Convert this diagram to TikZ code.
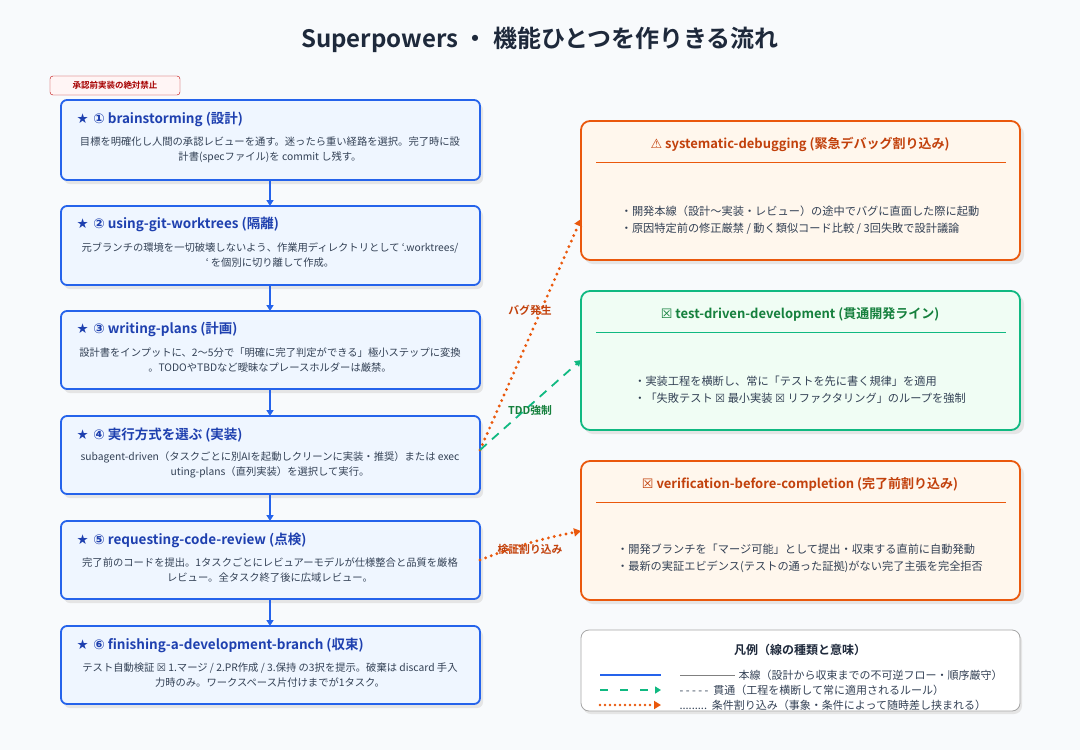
\documentclass[tikz,border=0pt]{standalone}
\usepackage{fontspec}
\setmainfont{Noto Sans CJK JP}[BoldFont={Noto Sans CJK JP Bold}]
\newfontfamily\sym{DejaVu Sans}
\usetikzlibrary{arrows.meta}
\definecolor{bg}{HTML}{F8FAFC}
\definecolor{blu}{HTML}{2563EB}
\definecolor{bluf}{HTML}{EFF6FF}
\definecolor{blt}{HTML}{1E40AF}
\definecolor{org}{HTML}{EA580C}
\definecolor{orgf}{HTML}{FFF7ED}
\definecolor{orgt}{HTML}{C2410C}
\definecolor{grn}{HTML}{10B981}
\definecolor{grnf}{HTML}{F0FDF4}
\definecolor{grnt}{HTML}{15803D}
\definecolor{txt}{HTML}{334155}
\definecolor{ttl}{HTML}{1E293B}
\tikzset{
 x=1pt,y=-1pt,
 stepbox/.style={draw=blu,line width=1.8pt,fill=bluf,rounded corners=6pt},
 shd/.style={fill=black!10,rounded corners=6pt},
 hd/.style={anchor=west,font=\bfseries\fontsize{13.5}{16}\selectfont,text=blt},
 bd/.style={align=center,font=\fontsize{10.3}{15}\selectfont,text=txt},
 main/.style={blu,line width=1.6pt,-{Triangle[width=7pt,length=6pt]}},
 dot/.style={org,line width=3.2pt,dash pattern=on 0pt off 6pt,line cap=round,-{Triangle[width=8pt,length=7pt]}},
 dsh/.style={grn,line width=1.8pt,dash pattern=on 9pt off 7pt,-{Triangle[width=7pt,length=6pt]}},
 lbl/.style={font=\bfseries\fontsize{10.8}{12}\selectfont},
 rb/.style={rounded corners=9pt,line width=1.8pt},
 rbd/.style={align=left,font=\fontsize{11.2}{17}\selectfont,text=txt},
 rh/.style={font=\bfseries\fontsize{13}{15}\selectfont},
 lt/.style={anchor=west,font=\fontsize{11}{12}\selectfont,text=txt},
}
\begin{document}
\begin{tikzpicture}
\useasboundingbox[fill=bg] (0,0) rectangle (1080,750);
\node[font=\bfseries\fontsize{24}{28}\selectfont,text=ttl] (title) at (540,40) {Superpowers ・ 機能ひとつを作りきる流れ};
\node[draw=red!75!black,fill=red!4,rounded corners=3pt,minimum width=130pt,minimum height=19pt,font=\bfseries\fontsize{8.5}{10}\selectfont,text=red!65!black] (badge) at (115,85.5) {承認前実装の絶対禁止};
\foreach \n/\t/\b in {1/100/180,2/206/285,3/311/389,4/416/494,5/521/599,6/626/704}{
 \fill[shd] (64,\t+4) rectangle (483,\b+4);
 \path[stepbox] (61,\t) rectangle (480,\b);
 \coordinate (s\n t) at (270,\t);
 \coordinate (s\n b) at (270,\b);
}
\node[hd] (h1) at (73,119) {{\sym ★ ①} brainstorming (設計)};
\node[bd] (b1) at (270,150) {目標を明確化し人間の承認レビューを通す。迷ったら重い経路を選択。完了時に設\\計書(specファイル)を commit し残す。};
\node[hd] (h2) at (73,224) {{\sym ★ ②} using-git-worktrees (隔離)};
\node[bd] (b2) at (270,255) {元ブランチの環境を一切破壊しないよう、作業用ディレクトリとして `.worktrees/\\` を個別に切り離して作成。};
\node[hd] (h3) at (73,329) {{\sym ★ ③} writing-plans (計画)};
\node[bd] (b3) at (270,360) {設計書をインプットに、2〜5分で「明確に完了判定ができる」極小ステップに変換\\。TODOやTBDなど曖昧なプレースホルダーは厳禁。};
\node[hd] (h4) at (73,435) {{\sym ★ ④} 実行方式を選ぶ (実装)};
\node[bd] (b4) at (270,465) {subagent-driven（タスクごとに別AIを起動しクリーンに実装・推奨）または exec\\uting-plans（直列実装）を選択して実行。};
\node[hd] (h5) at (73,540) {{\sym ★ ⑤} requesting-code-review (点検)};
\node[bd] (b5) at (270,570) {完了前のコードを提出。1タスクごとにレビュアーモデルが仕様整合と品質を厳格\\レビュー。全タスク終了後に広域レビュー。};
\node[hd] (h6) at (73,645) {{\sym ★ ⑥} finishing-a-development-branch (収束)};
\node[bd] (b6) at (270,675) {テスト自動検証 {\sym ☒} 1.マージ / 2.PR作成 / 3.保持 の3択を提示。破棄は discard 手入\\力時のみ。ワークスペース片付けまでが1タスク。};
\foreach \a/\b in {1/2,2/3,3/4,4/5,5/6} \draw[main] (s\a b) -- (s\b t);
\fill[shd,rounded corners=9pt] (584,125) rectangle (1024,264);
\path[rb,draw=org,fill=orgf] (581,121) rectangle (1020,260);
\draw[org,line width=0.7pt] (596,162) -- (1006,162);
\node[rh,text=orgt] (ha) at (800,144) {{\sym ⚠} systematic-debugging (緊急デバッグ割り込み)};
\node[rbd] (ba) at (800,220) {・開発本線（設計〜実装・レビュー）の途中でバグに直面した際に起動\\・原因特定前の修正厳禁 / 動く類似コード比較 / 3回失敗で設計議論};
\coordinate (ra) at (581,219);
\fill[shd,rounded corners=9pt] (584,295) rectangle (1024,434);
\path[rb,draw=grn,fill=grnf] (581,291) rectangle (1020,430);
\draw[grn,line width=0.7pt] (596,332) -- (1006,332);
\node[rh,text=grnt] (hb) at (800,314) {{\sym ☒} test-driven-development (貫通開発ライン)};
\node[rbd] (bb) at (800,390) {・実装工程を横断し、常に「テストを先に書く規律」を適用\\・「失敗テスト {\sym ☒} 最小実装 {\sym ☒} リファクタリング」のループを強制};
\coordinate (rb) at (581,360);
\fill[shd,rounded corners=9pt] (584,465) rectangle (1024,604);
\path[rb,draw=org,fill=orgf] (581,461) rectangle (1020,600);
\draw[org,line width=0.7pt] (596,502) -- (1006,502);
\node[rh,text=orgt] (hc) at (800,484) {{\sym ☒} verification-before-completion (完了前割り込み)};
\node[rbd] (bc) at (800,558) {・開発ブランチを「マージ可能」として提出・収束する直前に自動発動\\・最新の実証エビデンス(テストの通った証拠)がない完了主張を完全拒否};
\coordinate (rc) at (581,531);
\coordinate (o4) at (480,450);
\coordinate (o5) at (480,560);
\draw[dot] (o4) -- (ra);
\draw[dsh] (o4) -- (rb);
\draw[dot] (o5) to[bend left=5] (rc);
\node[lbl,text=orgt] (l1) at (530,310) {バグ発生};
\node[lbl,text=grnt] (l2) at (530,410) {TDD強制};
\node[lbl,text=orgt] (l3) at (530,549) {検証割り込み};
\fill[shd,rounded corners=8pt] (583,633) rectangle (1022,714);
\path[draw=black!35,fill=white,rounded corners=8pt,line width=0.8pt] (581,630) rectangle (1020,711);
\node[font=\bfseries\fontsize{12}{14}\selectfont,text=ttl] (lg) at (800,650) {凡例（線の種類と意味）};
\coordinate (la1) at (600,675); \coordinate (lb1) at (661,675);
\coordinate (la2) at (600,690); \coordinate (lb2) at (661,690);
\coordinate (la3) at (600,705); \coordinate (lb3) at (661,705);
\draw[blu,line width=2.6pt] (la1) -- (lb1);
\draw[dsh,dash pattern=on 8pt off 12pt] (la2) -- (lb2);
\draw[dot,line width=2.6pt,dash pattern=on 0pt off 5pt] (la3) -- (lb3);
\draw[black!50,line width=0.5pt] (680,675) -- (735,675);
\node[lt] (t1) at (735,675) {本線（設計から収束までの不可逆フロー・順序厳守）};
\node[lt] (t2) at (676,690) {-{} -{} -{} -{} -\ \ 貫通（工程を横断して常に適用されるルール）};
\node[lt] (t3) at (676,705) {.........\ \ 条件割り込み（事象・条件によって随時差し挟まれる）};
\end{tikzpicture}
\end{document}
